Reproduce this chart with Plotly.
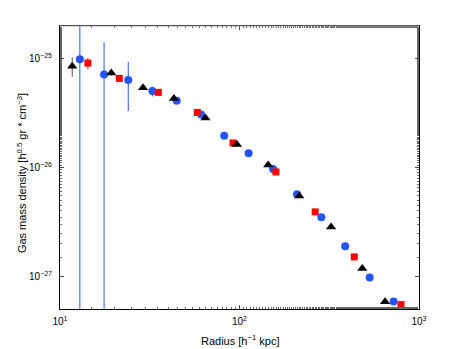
import plotly.graph_objects as go

# black triangles
tri_r = [11.7, 19.3, 29.0, 43.1, 64.6, 96.8, 144.5, 215.3, 323.6, 483.0, 647.0]
tri_rho = [8.5e-26, 7.4e-26, 5.4e-26, 4.3e-26, 2.85e-26, 1.63e-26, 1.054e-26,
           5.48e-27, 2.84e-27, 1.18e-27, 5.84e-28]
tri_err_hi = [1.8e-26, 0.4e-26, 0, 0, 0, 0, 0, 0, 0, 0, 0]
tri_err_lo = [1.7e-26, 0.4e-26, 0, 0, 0, 0, 0, 0, 0, 0, 0]

# blue circles
circ_r = [12.9, 17.6, 24.0, 32.7, 44.7, 61.1, 82.2, 112.4, 153.8, 209.0, 285.9,
          388.0, 531.0, 722.0]
circ_rho = [9.9e-26, 7.16e-26, 6.35e-26, 5.04e-26, 4.1e-26, 3.07e-26, 1.96e-26,
            1.35e-26, 9.68e-27, 5.68e-27, 3.49e-27, 1.89e-27, 9.75e-28, 5.88e-28]
circ_err_hi = [5e-25, 7.0e-26, 3.0e-26, 0.5e-26, 0, 0, 0, 0, 0, 0, 0, 0, 0, 0.4e-28]
circ_err_lo = [9.89e-26, 7.15e-26, 3.05e-26, 0.55e-26, 0, 0, 0, 0, 0, 0, 0, 0, 0, 0.4e-28]

# red squares
sq_r = [14.3, 21.4, 35.3, 58.2, 92.0, 159.6, 264.0, 436.0, 794.0]
sq_rho = [9.1e-26, 6.58e-26, 4.9e-26, 3.2e-26, 1.68e-26, 9.1e-27, 3.91e-27,
          1.51e-27, 5.5e-28]
sq_err_hi = [1.0e-26, 0, 0, 0, 0, 0, 0, 0, 0]
sq_err_lo = [1.1e-26, 0, 0, 0, 0, 0, 0, 0, 0]

x_ticks = [10, 100, 1000]
x_text = ["10<sup>1</sup>", "10<sup>2</sup>", "10<sup>3</sup>"]
y_ticks = [1e-27, 1e-26, 1e-25]
y_text = ["10<sup>−27</sup>", "10<sup>−26</sup>", "10<sup>−25</sup>"]

BLUE = "#2255ff"
RED = "#ff0000"

fig = go.Figure()


def add_series(x, y, hi, lo, symbol, color, size, err_color):
    fig.add_trace(
        go.Scatter(
            x=x,
            y=y,
            mode="markers",
            marker={"symbol": symbol, "color": color, "size": size, "line": {"width": 0}},
            error_y={"type": "data", "array": hi, "arrayminus": lo, "symmetric": False,
                     "color": err_color, "thickness": 1, "width": 0},
            showlegend=False,
        )
    )


add_series(circ_r, circ_rho, circ_err_hi, circ_err_lo, "circle", BLUE, 8, BLUE)
add_series(sq_r, sq_rho, sq_err_hi, sq_err_lo, "square", RED, 7, RED)
add_series(tri_r, tri_rho, tri_err_hi, tri_err_lo, "triangle-up", "black", 9, "#555555")

axis_common = dict(
    showline=True,
    linecolor="black",
    linewidth=1,
    mirror="allticks",
    ticks="inside",
    ticklen=4,
    tickwidth=1,
    tickcolor="#444444",
    showgrid=False,
    zeroline=False,
    automargin=False,
    tickfont={"size": 10, "color": "black"},
    minor={"ticks": "inside", "ticklen": 2, "tickcolor": "#666666", "showgrid": False},
)

fig.update_xaxes(type="log", range=[1, 3], tickvals=x_ticks, ticktext=x_text,
                 ticklabelstandoff=3, **axis_common)
fig.update_yaxes(type="log", range=[-27.3, -24.7], tickvals=y_ticks, ticktext=y_text,
                 ticklabelstandoff=5, **axis_common)

# axis titles as annotations for exact placement
fig.add_annotation(
    text="Radius [h<sup>−1</sup> kpc]", xref="paper", yref="paper", x=0.5, y=-0.11,
    xanchor="center", yanchor="middle", showarrow=False, font={"size": 11, "color": "black"},
)
fig.add_annotation(
    text="Gas mass density [h<sup>0.5</sup> gr * cm<sup>−3</sup>]", xref="paper", yref="paper",
    x=-0.106, y=0.48, xanchor="center", yanchor="middle", textangle=-90, showarrow=False,
    font={"size": 11, "color": "black"},
)

# light top frame edge
fig.add_shape(type="line", xref="paper", yref="paper", x0=0, x1=1, y0=1, y1=1,
              line={"color": "#aaaaaa", "width": 1})

fig.update_layout(
    width=463,
    height=349,
    margin={"l": 60, "r": 44, "t": 26, "b": 40},
    paper_bgcolor="white",
    plot_bgcolor="white",
    font={"family": "Liberation Sans, Arial, sans-serif", "size": 11, "color": "black"},
)

fig.write_html("out.html", config={"displayModeBar": False},
               post_script="document.body.style.margin='0px';")
